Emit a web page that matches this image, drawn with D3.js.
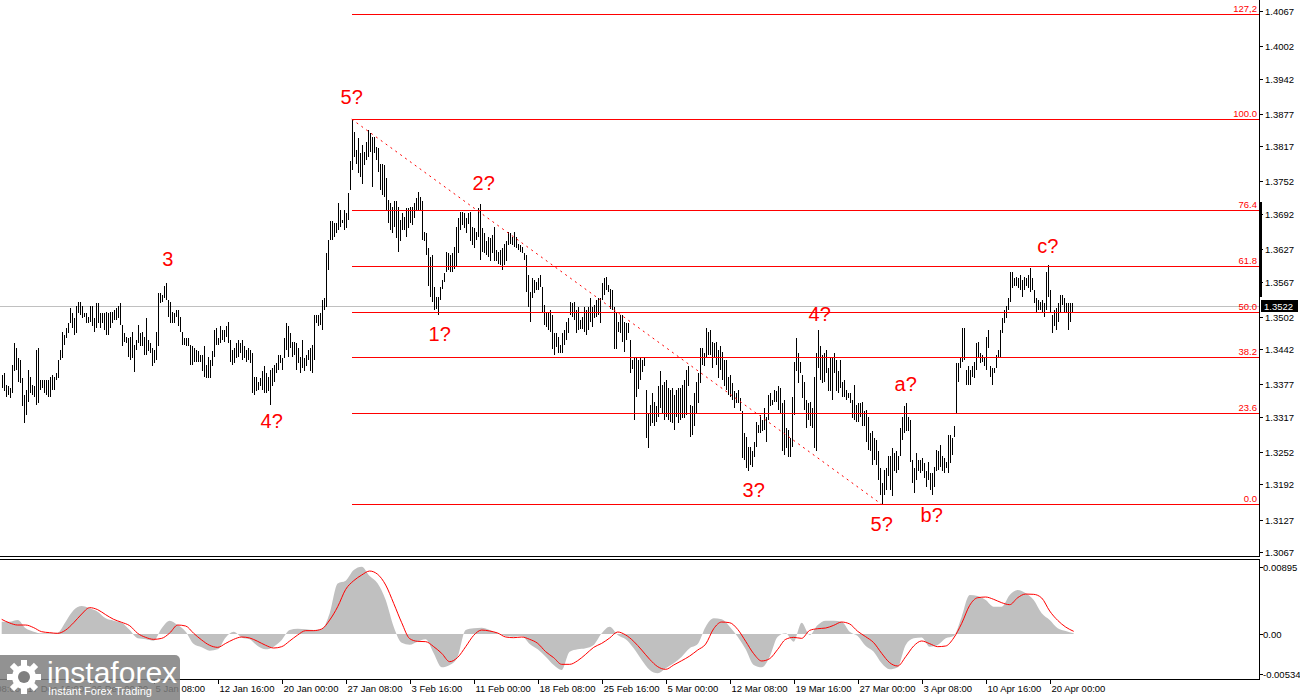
<!DOCTYPE html>
<html><head><meta charset="utf-8">
<script src="https://cdn.jsdelivr.net/npm/d3@7"></script>
<style>html,body{margin:0;padding:0;background:#fff;}svg{display:block;}</style>
</head><body>
<svg id="c" width="1300" height="700"></svg>
<script>
// ---------- DATA ----------
const highs = [
1.3394,1.3398,1.3376,1.3373,1.3370,1.3413,1.3453,1.3444,1.3425,1.3422,
1.3388,1.3358,1.3367,1.3404,1.3391,1.3376,1.3373,1.3441,1.3444,1.3385,
1.3385,1.3385,1.3385,1.3385,1.3391,1.3394,1.3391,1.3398,1.3422,1.3441,
1.3474,1.3468,1.3481,1.3490,1.3518,1.3508,1.3499,1.3521,1.3530,1.3530,
1.3521,1.3508,1.3508,1.3502,1.3521,1.3521,1.3499,1.3527,1.3527,1.3508,
1.3508,1.3508,1.3511,1.3508,1.3511,1.3511,1.3515,1.3518,1.3521,1.3527,
1.3487,1.3471,1.3465,1.3462,1.3465,1.3474,1.3450,1.3459,1.3487,1.3471,
1.3474,1.3465,1.3499,1.3459,1.3453,1.3444,1.3441,1.3474,1.3545,1.3545,
1.3542,1.3558,1.3564,1.3533,1.3530,1.3511,1.3508,1.3515,1.3515,1.3502,
1.3474,1.3462,1.3462,1.3462,1.3450,1.3447,1.3444,1.3441,1.3438,1.3431,
1.3431,1.3447,1.3413,1.3428,1.3422,1.3438,1.3478,1.3481,1.3462,
1.3484,1.3477,1.3477,1.3484,1.3493,1.3459,1.3440,1.3444,1.3453,1.3459,
1.3453,1.3459,1.3447,1.3440,1.3444,1.3440,1.3434,1.3391,1.3391,1.3382,
1.3388,1.3401,1.3410,1.3397,1.3391,1.3404,1.3407,1.3413,1.3416,1.3431,
1.3431,1.3425,1.3462,1.3490,1.3484,1.3471,1.3456,1.3456,1.3453,1.3444,
1.3428,1.3459,1.3425,1.3431,1.3440,1.3444,1.3450,1.3505,1.3505,1.3505,
1.3508,1.3533,1.3536,1.3619,1.3644,1.3678,1.3678,1.3675,1.3675,1.3712,
1.3699,1.3681,1.3699,1.3693,1.3730,1.3789,1.3867,1.3844,1.3810,1.3832,
1.3804,1.3819,1.3807,1.3825,1.3847,1.3841,1.3835,1.3835,1.3816,1.3813,
1.3785,1.3785,1.3782,1.3758,1.3718,1.3712,1.3705,1.3715,1.3715,1.3705,
1.3681,1.3693,1.3687,1.3702,1.3702,1.3705,1.3705,1.3712,1.3721,1.3733,
1.3724,1.3715,1.3659,1.3656,1.3628,1.3613,1.3616,
1.3557,1.3539,1.3539,1.3557,1.3570,1.3582,1.3622,1.3619,1.3616,1.3619,
1.3631,1.3668,1.3684,1.3696,1.3696,1.3693,1.3684,1.3693,1.3696,1.3668,
1.3665,1.3659,1.3702,1.3711,1.3665,1.3656,1.3641,1.3650,1.3647,1.3653,
1.3668,1.3625,1.3622,1.3625,1.3628,1.3637,1.3641,1.3659,1.3656,1.3650,
1.3659,1.3650,1.3637,1.3634,1.3631,1.3619,1.3616,1.3579,1.3548,1.3573,
1.3570,1.3567,1.3573,1.3579,1.3557,1.3523,1.3508,1.3511,1.3514,1.3505,
1.3471,1.3471,1.3465,1.3450,1.3471,1.3477,1.3493,1.3499,1.3530,1.3527,
1.3530,1.3514,1.3520,1.3496,1.3502,1.3520,1.3514,1.3520,1.3536,1.3520,
1.3523,1.3533,1.3536,1.3536,1.3564,1.3573,1.3576,1.3560,1.3554,1.3551,
1.3520,1.3508,1.3493,1.3505,1.3505,1.3493,1.3490,1.3490,1.3459,1.3422,
1.3425,1.3425,1.3422,1.3425,1.3422,1.3425,1.3366,1.3323,
1.3339,1.3360,1.3345,1.3336,1.3373,1.3401,1.3376,1.3382,1.3385,1.3370,
1.3367,1.3370,1.3357,1.3367,1.3370,1.3370,1.3376,1.3385,1.3404,1.3410,
1.3339,1.3336,1.3360,1.3382,1.3397,1.3444,1.3444,1.3434,1.3481,1.3474,
1.3478,1.3456,1.3453,1.3456,1.3441,1.3447,1.3437,1.3422,1.3422,1.3391,
1.3394,1.3379,1.3364,1.3360,1.3367,1.3351,1.3327,1.3287,1.3280,1.3262,
1.3262,1.3253,1.3271,1.3308,1.3302,1.3320,1.3311,1.3333,1.3317,1.3357,
1.3360,1.3348,1.3367,1.3364,1.3373,1.3370,1.3342,1.3348,1.3296,1.3293,
1.3277,1.3354,1.3419,1.3462,1.3434,1.3419,1.3394,1.3382,1.3348,1.3342,
1.3345,1.3333,1.3391,1.3434,1.3478,1.3447,1.3431,1.3434,1.3441,1.3407,
1.3425,1.3428,1.3434,1.3422,1.3401,1.3422,1.3382,1.3385,1.3367,1.3360,
1.3360,1.3348,1.3376,1.3339,1.3342,1.3342,1.3345,
1.3327,1.3330,1.3317,1.3287,1.3290,1.3277,1.3274,1.3253,1.3222,1.3194,
1.3219,1.3222,1.3244,1.3244,1.3259,1.3250,1.3253,1.3244,1.3296,1.3317,
1.3336,1.3342,1.3317,1.3311,1.3237,1.3222,1.3250,1.3237,1.3237,1.3240,
1.3231,1.3216,1.3234,1.3213,1.3213,1.3225,1.3256,1.3253,1.3265,1.3244,
1.3240,1.3234,1.3284,1.3284,1.3277,1.3299,1.3416,1.3416,1.3428,1.3481,
1.3481,1.3404,1.3410,1.3404,1.3410,1.3419,1.3453,1.3456,1.3434,1.3431,
1.3428,1.3465,1.3478,1.3410,1.3407,1.3407,1.3431,1.3441,1.3478,1.3499,
1.3515,1.3521,1.3536,1.3585,1.3585,1.3573,1.3576,1.3573,1.3579,1.3570,
1.3576,1.3573,1.3579,1.3592,1.3573,1.3551,1.3536,1.3533,1.3530,1.3533,
1.3527,1.3585,1.3598,1.3551,1.3505,1.3515,1.3518,1.3527,1.3542,1.3542,
1.3536,1.3527,1.3527,1.3527,1.3527
];
const lows = [
1.3370,1.3364,1.3354,1.3358,1.3351,1.3361,1.3401,1.3404,1.3382,1.3379,
1.3336,1.3306,1.3321,1.3345,1.3361,1.3358,1.3354,1.3339,1.3342,1.3367,
1.3370,1.3361,1.3358,1.3354,1.3354,1.3367,1.3367,1.3385,1.3388,1.3422,
1.3425,1.3450,1.3462,1.3471,1.3490,1.3481,1.3468,1.3471,1.3508,1.3505,
1.3499,1.3502,1.3490,1.3490,1.3493,1.3484,1.3474,1.3481,1.3490,1.3481,
1.3490,1.3478,1.3468,1.3468,1.3481,1.3490,1.3496,1.3496,1.3499,1.3487,
1.3447,1.3456,1.3453,1.3428,1.3422,1.3425,1.3399,1.3441,1.3453,1.3447,
1.3447,1.3431,1.3431,1.3438,1.3434,1.3410,1.3416,1.3422,1.3447,1.3527,
1.3530,1.3536,1.3533,1.3502,1.3490,1.3490,1.3490,1.3502,1.3484,1.3474,
1.3450,1.3450,1.3447,1.3447,1.3413,1.3413,1.3419,1.3419,1.3419,1.3419,
1.3401,1.3391,1.3388,1.3388,1.3388,1.3410,1.3428,1.3450,1.3450,
1.3453,1.3459,1.3456,1.3465,1.3453,1.3419,1.3413,1.3416,1.3425,1.3428,
1.3434,1.3422,1.3425,1.3419,1.3422,1.3416,1.3360,1.3357,1.3364,1.3367,
1.3373,1.3367,1.3360,1.3360,1.3364,1.3339,1.3373,1.3382,1.3397,1.3404,
1.3416,1.3404,1.3425,1.3440,1.3428,1.3444,1.3428,1.3431,1.3404,1.3416,
1.3397,1.3407,1.3401,1.3410,1.3422,1.3401,1.3397,1.3422,1.3490,1.3484,
1.3487,1.3477,1.3514,1.3520,1.3588,1.3644,1.3644,1.3650,1.3656,1.3662,
1.3668,1.3675,1.3662,1.3665,1.3681,1.3736,1.3773,1.3798,1.3785,1.3767,
1.3761,1.3748,1.3782,1.3792,1.3798,1.3807,1.3742,1.3804,1.3792,1.3770,
1.3736,1.3727,1.3724,1.3699,1.3675,1.3662,1.3656,1.3668,1.3647,1.3622,
1.3641,1.3662,1.3662,1.3650,1.3665,1.3675,1.3671,1.3684,1.3699,1.3699,
1.3699,1.3644,1.3641,1.3616,1.3558,1.3539,1.3530,
1.3514,1.3517,1.3505,1.3533,1.3554,1.3567,1.3585,1.3588,1.3585,1.3585,
1.3591,1.3594,1.3619,1.3662,1.3671,1.3665,1.3656,1.3674,1.3641,1.3634,
1.3628,1.3644,1.3650,1.3607,1.3622,1.3619,1.3616,1.3613,1.3604,1.3619,
1.3604,1.3604,1.3600,1.3597,1.3588,1.3597,1.3604,1.3634,1.3637,1.3634,
1.3631,1.3628,1.3625,1.3622,1.3619,1.3607,1.3548,1.3520,1.3493,1.3536,
1.3545,1.3551,1.3551,1.3557,1.3508,1.3487,1.3483,1.3477,1.3474,1.3443,
1.3431,1.3446,1.3434,1.3434,1.3434,1.3450,1.3459,1.3471,1.3505,1.3502,
1.3496,1.3471,1.3477,1.3480,1.3480,1.3474,1.3468,1.3477,1.3493,1.3483,
1.3499,1.3502,1.3505,1.3490,1.3533,1.3542,1.3551,1.3548,1.3517,1.3514,
1.3443,1.3443,1.3474,1.3471,1.3456,1.3437,1.3459,1.3471,1.3397,1.3406,
1.3311,1.3354,1.3369,1.3385,1.3400,1.3410,1.3277,1.3259,
1.3299,1.3305,1.3299,1.3308,1.3317,1.3333,1.3324,1.3311,1.3317,1.3311,
1.3308,1.3305,1.3293,1.3317,1.3305,1.3311,1.3314,1.3314,1.3320,1.3373,
1.3280,1.3283,1.3299,1.3324,1.3342,1.3379,1.3413,1.3410,1.3428,1.3431,
1.3431,1.3407,1.3425,1.3413,1.3388,1.3404,1.3385,1.3373,1.3367,1.3357,
1.3354,1.3348,1.3333,1.3342,1.3342,1.3327,1.3240,1.3237,1.3222,1.3216,
1.3228,1.3225,1.3243,1.3262,1.3287,1.3287,1.3290,1.3293,1.3271,1.3311,
1.3336,1.3339,1.3345,1.3345,1.3330,1.3324,1.3253,1.3247,1.3259,1.3243,
1.3243,1.3262,1.3320,1.3401,1.3379,1.3397,1.3351,1.3330,1.3296,1.3311,
1.3299,1.3296,1.3259,1.3253,1.3407,1.3385,1.3379,1.3382,1.3397,1.3364,
1.3364,1.3348,1.3397,1.3364,1.3360,1.3370,1.3354,1.3354,1.3348,1.3351,
1.3342,1.3314,1.3311,1.3308,1.3308,1.3317,1.3299,
1.3299,1.3271,1.3256,1.3253,1.3228,1.3237,1.3228,1.3200,1.3173,1.3155,
1.3173,1.3182,1.3207,1.3182,1.3170,1.3216,1.3213,1.3219,1.3244,1.3274,
1.3287,1.3290,1.3290,1.3234,1.3194,1.3176,1.3200,1.3216,1.3213,1.3216,
1.3204,1.3188,1.3200,1.3182,1.3173,1.3188,1.3216,1.3219,1.3225,1.3216,
1.3213,1.3222,1.3213,1.3231,1.3247,1.3280,1.3324,1.3382,1.3407,1.3419,
1.3422,1.3376,1.3376,1.3376,1.3391,1.3388,1.3404,1.3425,1.3416,1.3419,
1.3410,1.3404,1.3444,1.3391,1.3376,1.3397,1.3407,1.3428,1.3428,1.3471,
1.3490,1.3499,1.3515,1.3530,1.3555,1.3558,1.3558,1.3555,1.3551,1.3539,
1.3551,1.3558,1.3555,1.3548,1.3551,1.3527,1.3511,1.3515,1.3515,1.3511,
1.3502,1.3515,1.3539,1.3508,1.3471,1.3484,1.3478,1.3493,1.3508,1.3524,
1.3508,1.3511,1.3478,1.3493,1.3511
];
const lastPrice = 1.3522;

// oscillator, one reading every 4 bars
const oscHist = [
0.00165,0.00165,0.00187,0.00076,0.00031,0.00009,0.00009,0.00018,0.00165,0.00320,
0.00374,0.00343,0.00298,0.00209,0.00178,0.00151,0.00053,-0.00058,-0.00071,-0.00089,
0.00076,0.00178,0.00120,0.00031,-0.00134,-0.00178,-0.00223,-0.00205,-0.00045,0.00031,
-0.00045,-0.00071,-0.00160,-0.00205,-0.00169,-0.00080,0.00053,0.00071,0.00062,0.00053,
0.00062,0.00276,0.00676,0.00712,0.00854,0.00899,0.00774,0.00676,0.00454,0.00098,
-0.00116,-0.00142,-0.00102,-0.00071,-0.00258,-0.00445,-0.00414,
-0.00303,0.00053,0.00076,0.00085,0.00053,0.00009,-0.00027,-0.00036,-0.00027,-0.00134,
-0.00205,-0.00303,-0.00414,-0.00481,-0.00236,-0.00205,-0.00191,-0.00147,0.00009,0.00098,
-0.00013,-0.00071,-0.00191,-0.00347,-0.00481,-0.00525,-0.00458,-0.00392,-0.00303,-0.00191,
-0.00134,0.00098,0.00209,0.00196,0.00098,-0.00036,-0.00205,-0.00414,-0.00445,-0.00303,
-0.00036,0.00009,-0.00102,0.00151,-0.00013,0.00120,0.00178,0.00178,0.00165,0.00031,
-0.00027,-0.00160,-0.00236,-0.00392,-0.00472,-0.00445,
-0.00147,-0.00058,-0.00045,-0.00169,-0.00147,-0.00058,-0.00027,0.00231,0.00521,0.00507,
0.00454,0.00365,0.00365,0.00521,0.00587,0.00543,0.00454,0.00276,0.00187,0.00076,
0.00040,0.00009
];
const oscSignal = [
0.00196,0.00147,0.00120,0.00120,0.00085,0.00031,0.00018,0.00009,0.00053,0.00151,
0.00267,0.00352,0.00325,0.00258,0.00196,0.00156,0.00111,0.00009,-0.00045,-0.00071,
-0.00058,0.00013,0.00120,0.00107,0.00009,-0.00080,-0.00151,-0.00178,-0.00125,-0.00071,
-0.00040,-0.00053,-0.00098,-0.00151,-0.00187,-0.00169,-0.00093,-0.00013,0.00045,0.00045,
0.00067,0.00187,0.00365,0.00596,0.00712,0.00788,0.00841,0.00797,0.00654,0.00409,
0.00151,-0.00062,-0.00098,-0.00102,-0.00169,-0.00258,-0.00369,
-0.00312,-0.00169,-0.00018,0.00053,0.00040,0.00013,-0.00040,-0.00049,-0.00040,-0.00071,
-0.00125,-0.00236,-0.00316,-0.00405,-0.00405,-0.00356,-0.00271,-0.00178,-0.00125,-0.00053,
0.00027,-0.00013,-0.00098,-0.00214,-0.00338,-0.00436,-0.00472,-0.00414,-0.00356,-0.00294,
-0.00214,-0.00134,0.00071,0.00160,0.00151,0.00062,-0.00098,-0.00263,-0.00360,-0.00329,
-0.00205,-0.00071,-0.00045,-0.00058,0.00049,0.00071,0.00080,0.00116,0.00160,0.00134,
0.00036,-0.00036,-0.00116,-0.00258,-0.00383,-0.00427,
-0.00303,-0.00160,-0.00093,-0.00129,-0.00169,-0.00160,-0.00053,0.00142,0.00383,0.00485,
0.00494,0.00463,0.00418,0.00392,0.00485,0.00534,0.00530,0.00481,0.00307,0.00182,
0.00093,0.00036
];
const oscStep = 4;

const priceTicks = [1.4067,1.4002,1.3942,1.3877,1.3817,1.3752,1.3692,1.3627,1.3567,1.3502,1.3442,1.3377,1.3317,1.3252,1.3192,1.3127,1.3067];
const oscTicks = [0.00895, 0, -0.00534];
const oscTickLabels = ["0.00895","0.00","-0.00534"];
const dateLabels = ["10 Dec 08:00","17 Dec 16:00","26 Dec 00:00","5 Jan 08:00","12 Jan 16:00","20 Jan 00:00","27 Jan 08:00","3 Feb 16:00","11 Feb 00:00","18 Feb 08:00","25 Feb 16:00","5 Mar 00:00","12 Mar 08:00","19 Mar 16:00","27 Mar 00:00","3 Apr 08:00","10 Apr 16:00","20 Apr 00:00"];
const dateFirstBar = -20, dateEvery = 32;

const fibRatios = [0, 0.236, 0.382, 0.5, 0.618, 0.764, 1, 1.272];
const fibLabels = ["0.0","23.6","38.2","50.0","61.8","76.4","100.0","127,2"];

const waveText  = ["3","4?","5?","1?","2?","3?","4?","5?","a?","b?","c?"];
const waveBar   = [83,135,175,219,241,376,409,440,452,465,523];
const wavePrice = [1.3596,1.3296,1.3895,1.3457,1.3736,1.3169,1.3494,1.3106,1.3365,1.3122,1.3620];

// ---------- DRAW ----------
const svg = d3.select('#c');
const N = Math.min(highs.length, lows.length);
const plotR = 1259;
const x = d3.scaleLinear().domain([0, 535]).range([1.7, 1071.7]);
const y = d3.scaleLinear().domain([1.3067, 1.4067]).range([552, 11]);
const yo = d3.scaleLinear().domain([-0.00534, 0.00895]).range([674, 567]);
const font = "'Liberation Sans', Arial, sans-serif";

svg.append('rect').attr('width',1300).attr('height',700).attr('fill','#fff');

const main = svg.append('g');
// last price line
main.append('line').attr('x1',0).attr('x2',plotR).attr('y1',Math.round(y(lastPrice))+0.5).attr('y2',Math.round(y(lastPrice))+0.5)
  .attr('stroke','#c0c0c0').attr('stroke-width',1);

// bars
const idx = d3.range(N);
main.append('g').selectAll('rect').data(idx).join('rect')
  .attr('x', i => Math.round(x(i)))
  .attr('y', i => Math.round(y(highs[i])))
  .attr('width', 1)
  .attr('height', i => Math.max(1, Math.round(y(lows[i])) - Math.round(y(highs[i]))))
  .attr('fill', '#000').attr('shape-rendering','crispEdges');

// fibonacci
const hiIdx = d3.maxIndex(highs), loIdx = d3.minIndex(lows);
const fHi = highs[hiIdx], fLo = lows[loIdx];
const fx0 = Math.round(x(hiIdx));
fibRatios.forEach((r, k) => {
  const p = fLo + r * (fHi - fLo);
  const yy = Math.round(y(p)) + 0.5;
  main.append('line').attr('x1', fx0).attr('x2', plotR).attr('y1', yy).attr('y2', yy)
    .attr('stroke', '#ff0000').attr('stroke-width', 1);
  main.append('text').attr('x', 1257).attr('y', yy - 2.5).attr('text-anchor','end')
    .attr('font-family', font).attr('font-size', 9.5).attr('fill', '#ff0000').text(fibLabels[k]);
});
// trend line
main.append('line').attr('x1', x(hiIdx)).attr('y1', y(fHi)).attr('x2', x(loIdx)).attr('y2', y(fLo))
  .attr('stroke', '#ff0000').attr('stroke-width', 1).attr('stroke-dasharray','2,4');

// wave labels
main.append('g').selectAll('text').data(waveText).join('text')
  .attr('x', (d,i) => x(waveBar[i])).attr('y', (d,i) => y(wavePrice[i]))
  .attr('text-anchor','middle').attr('font-family', font).attr('font-size', 20)
  .attr('fill', '#ff0000').text(d => d);

// price axis
const ax = svg.append('g');
ax.append('line').attr('x1', plotR+0.5).attr('x2', plotR+0.5).attr('y1', 0).attr('y2', 557).attr('stroke','#000');
ax.append('rect').attr('x', plotR).attr('y', 202).attr('width', 3).attr('height', 95).attr('fill','#000');
priceTicks.forEach(v => {
  const yy = Math.round(y(v)) + 0.5;
  ax.append('line').attr('x1', plotR).attr('x2', plotR+4).attr('y1', yy).attr('y2', yy).attr('stroke','#000');
  ax.append('text').attr('x', 1265).attr('y', yy + 3.5).attr('font-family', font).attr('font-size', 9.5)
    .attr('fill','#000').text(v.toFixed(4));
});
// last price box
const ly = y(lastPrice);
ax.append('rect').attr('x', 1261).attr('y', Math.round(ly) - 6).attr('width', 37).attr('height', 12).attr('fill','#000');
ax.append('text').attr('x', 1264).attr('y', Math.round(ly) + 3.5).attr('font-family', font).attr('font-size', 9.5)
  .attr('fill','#fff').text(lastPrice.toFixed(4));

// panel borders
svg.append('line').attr('x1',0).attr('x2',plotR+1).attr('y1',556.5).attr('y2',556.5).attr('stroke','#000');
svg.append('line').attr('x1',0).attr('x2',plotR+1).attr('y1',559.5).attr('y2',559.5).attr('stroke','#000');
svg.append('line').attr('x1',0).attr('x2',plotR+1).attr('y1',679.5).attr('y2',679.5).attr('stroke','#000');
svg.append('line').attr('x1',plotR+0.5).attr('x2',plotR+0.5).attr('y1',559).attr('y2',680).attr('stroke','#000');

// oscillator
const osc = svg.append('g');
const ox = k => x(k * oscStep);
osc.append('path').datum(oscHist)
  .attr('d', d3.area().x((d,k) => ox(k)).y0(yo(0)).y1(d => yo(d)).curve(d3.curveMonotoneX))
  .attr('fill', '#c0c0c0');
osc.append('path').datum(oscSignal)
  .attr('d', d3.line().x((d,k) => ox(k)).y(d => yo(d)).curve(d3.curveMonotoneX))
  .attr('fill', 'none').attr('stroke', '#ff0000').attr('stroke-width', 1);
oscTicks.forEach((v,k) => {
  const yy = Math.round(yo(v)) + 0.5;
  osc.append('line').attr('x1', plotR).attr('x2', plotR+4).attr('y1', yy).attr('y2', yy).attr('stroke','#000');
  osc.append('text').attr('x', 1263).attr('y', yy + 3.5).attr('font-family', font).attr('font-size', 9.5)
    .attr('fill','#000').text(oscTickLabels[k]);
});

// time axis
dateLabels.forEach((t,k) => {
  const xx = Math.round(x(dateFirstBar + k * dateEvery)) + 0.5;
  svg.append('line').attr('x1', xx).attr('x2', xx).attr('y1', 680).attr('y2', 684).attr('stroke','#000');
  svg.append('text').attr('x', xx + 1).attr('y', 692).attr('font-family', font).attr('font-size', 9.5)
    .attr('fill','#000').text(t);
});

// logo
const logo = svg.append('g');
logo.append('rect').attr('x', -6).attr('y', 655).attr('width', 186).attr('height', 50).attr('rx', 5)
  .attr('fill', '#7f7f7f').attr('fill-opacity', 0.85);
const gear = logo.append('g').attr('transform','translate(24,677)');
d3.range(8).forEach(k => {
  gear.append('rect').attr('x', -3).attr('y', -17).attr('width', 6).attr('height', 8)
    .attr('fill','#fff').attr('transform', `rotate(${k*45})`);
});
gear.append('circle').attr('r', 12).attr('fill', '#fff');
gear.append('circle').attr('r', 6).attr('fill', '#7f7f7f');
logo.append('text').attr('x', 47).attr('y', 683).attr('font-family', font).attr('font-size', 30)
  .attr('fill', '#fff').text('instaforex');
logo.append('text').attr('x', 48).attr('y', 695).attr('font-family', font).attr('font-size', 11)
  .attr('fill', '#fff').text('Instant Forex Trading');
</script>
</body></html>
